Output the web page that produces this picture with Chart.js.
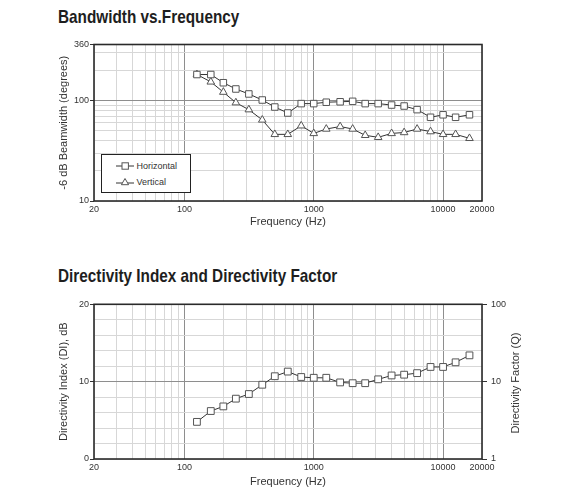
<!DOCTYPE html>
<html><head><meta charset="utf-8">
<script src="https://cdn.jsdelivr.net/npm/chart.js@4.4.1/dist/chart.umd.min.js"></script>
<style>
html,body{margin:0;padding:0;background:#fff;}
body{width:568px;height:500px;position:relative;overflow:hidden;font-family:"Liberation Sans",Arial,sans-serif;}
.title{position:absolute;left:58px;font-family:"Liberation Sans",Arial,sans-serif;font-weight:bold;font-size:18.5px;color:#1e1e1e;line-height:20px;white-space:nowrap;transform:scaleX(0.828);transform-origin:0 50%;}
#t1{top:7px;}
#t2{top:266px;}
.wrap{position:absolute;left:0;width:568px;}
#w1{top:30px;height:205px;}
#w2{top:290px;height:210px;}
#legend{position:absolute;left:101px;top:154px;width:90px;height:39px;box-sizing:border-box;border:1.5px solid #222;background:#fff;font-size:9px;color:#333;}
#legend .row{position:absolute;left:0;height:12px;line-height:12px;white-space:nowrap;}
#legend svg{position:absolute;left:12.5px;top:0;}
#legend span{position:absolute;left:34.5px;top:0;}
#qtitle{position:absolute;left:415px;top:375px;width:200px;line-height:16px;text-align:center;font-size:11px;color:#333;transform:rotate(-90deg);transform-origin:50% 50%;white-space:nowrap;}
</style></head>
<body>
<div class="title" id="t1">Bandwidth vs.Frequency</div>
<div class="wrap" id="w1"><canvas id="c1"></canvas></div>
<div id="legend">
  <div class="row" style="top:4.5px"><svg width="20" height="12"><line x1="1" y1="6" x2="19" y2="6" stroke="#333" stroke-width="1"/><rect x="7" y="2.8" width="6.4" height="6.4" fill="#fff" stroke="#555" stroke-width="1"/></svg><span>Horizontal</span></div>
  <div class="row" style="top:20.5px"><svg width="20" height="12"><line x1="1" y1="7" x2="19" y2="7" stroke="#333" stroke-width="1"/><polygon points="10,2.5 13.6,8.7 6.4,8.7" fill="#fff" stroke="#555" stroke-width="1"/></svg><span>Vertical</span></div>
</div>
<div class="title" id="t2">Directivity Index and Directivity Factor</div>
<div class="wrap" id="w2"><canvas id="c2"></canvas></div>
<div id="qtitle">Directivity Factor (Q)</div>
<script>
// ---- data ----
const freqs = [125,160,200,250,315,400,500,630,800,1000,1250,1600,2000,2500,3150,4000,5000,6300,8000,10000,12500,16000];
const horizontal = [181,181,150,130,116,101,86,75,93,93,96,97,98,93,93,90,88,81,68,72,68,72];
const vertical = [181,153,121,95,81,64,46,46,56,47,52,55,52,45,43,47,48,52,49,46,46,42];
const directivityIndex = [4.8,6.2,6.8,7.8,8.4,9.6,10.7,11.3,10.6,10.5,10.5,9.9,9.8,9.8,10.3,10.8,10.9,11.1,11.9,11.9,12.5,13.4];
const freqTickLabels = [20,100,1000,10000,20000];
const freqMajor = [100,1000,10000];
const beamTickLabels = [10,100,360];
const beamMajor = [100];
const diTickLabels = [0,10,20];
const diMajor = [10];
const qTickLabels = [1,10,100];

// gridline positions for log axes
function logGrid(min,max){
  const out=[];
  for(let e=-2;e<=6;e++){
    for(let m=1;m<10;m++){
      const v=+(m*Math.pow(10,e)).toPrecision(6);
      if(v>=min && v<=max) out.push(v);
    }
  }
  if(!out.includes(min)) out.unshift(min);
  if(!out.includes(max)) out.push(max);
  return out;
}

const MINOR='#d7d7d7', MAJOR='#8e8e8e', TXT='#333';
const tickFont={family:'"Liberation Sans",Arial,sans-serif',size:9};
const titleFont={family:'"Liberation Sans",Arial,sans-serif',size:11};

const frame={id:'frame',beforeDatasetsDraw(chart){
  const a=chart.chartArea,ctx=chart.ctx;
  ctx.save();ctx.strokeStyle='#2a2a2a';ctx.lineWidth=1.6;
  ctx.strokeRect(a.left,a.top,a.right-a.left,a.bottom-a.top);ctx.restore();
}};

function freqAxis(h){
  return {
    type:'logarithmic',min:20,max:20000,
    afterBuildTicks:s=>{s.ticks=logGrid(20,20000).map(v=>({value:v}));},
    afterFit:s=>{s.height=h;},
    ticks:{autoSkip:false,maxRotation:0,minRotation:0,padding:3,color:TXT,font:tickFont,
      callback:v=>freqTickLabels.includes(v)?String(v):''},
    grid:{color:c=>freqMajor.includes(c.tick&&c.tick.value)?MAJOR:MINOR,lineWidth:1,drawTicks:false},
    border:{display:false},
    title:{display:true,text:'Frequency (Hz)',color:TXT,font:titleFont,padding:0}
  };
}

const common={responsive:true,maintainAspectRatio:false,animation:false,
  plugins:{legend:{display:false},tooltip:{enabled:false}},events:[]};

function series(vals,style,r){
  return {data:freqs.map((f,i)=>({x:f,y:vals[i]})),borderColor:'#333',borderWidth:1,
    pointStyle:style,pointRadius:r,pointBackgroundColor:'#fff',pointBorderColor:'#555',pointBorderWidth:1,
    tension:0,fill:false};
}

new Chart(document.getElementById('c1'),{
  type:'line',
  data:{datasets:[series(horizontal,'rect',4.6),series(vertical,'triangle',4.4)]},
  options:Object.assign({},common,{
    layout:{padding:{left:57.4,right:86,top:14.5,bottom:6.4}},
    scales:{
      x:freqAxis(27.6),
      y:{type:'logarithmic',min:10,max:360,
        afterBuildTicks:s=>{s.ticks=logGrid(10,360).map(v=>({value:v}));},
        afterFit:s=>{s.width=36.6;},
        ticks:{autoSkip:false,padding:1,color:TXT,font:tickFont,
          callback:v=>beamTickLabels.includes(v)?String(v):''},
        grid:{color:c=>beamMajor.includes(c.tick&&c.tick.value)?MAJOR:MINOR,lineWidth:1,drawTicks:true,tickLength:4,
          tickColor:c=>beamTickLabels.includes(c.tick&&c.tick.value)?'#333':'rgba(0,0,0,0)'},
        border:{display:false},
        title:{display:true,text:'-6 dB Beamwidth (degrees)',color:TXT,font:titleFont,padding:0}
      }
    }
  }),
  plugins:[frame]
});

new Chart(document.getElementById('c2'),{
  type:'line',
  data:{datasets:[Object.assign(series(directivityIndex,'rect',4.8),{yAxisID:'y'})]},
  options:Object.assign({},common,{
    layout:{padding:{left:57.4,right:46,top:14.3,bottom:11.4}},
    scales:{
      x:freqAxis(29.6),
      y:{type:'linear',min:0,max:20,position:'left',
        afterFit:s=>{s.width=36.6;},
        ticks:{stepSize:2,autoSkip:false,padding:1,color:TXT,font:tickFont,
          callback:v=>diTickLabels.includes(v)?String(v):''},
        grid:{color:c=>diMajor.includes(c.tick&&c.tick.value)?MAJOR:MINOR,lineWidth:1,drawTicks:true,tickLength:4,
          tickColor:c=>diTickLabels.includes(c.tick&&c.tick.value)?'#333':'rgba(0,0,0,0)'},
        border:{display:false},
        title:{display:true,text:'Directivity Index (DI), dB',color:TXT,font:titleFont,padding:0}
      },
      q:{type:'logarithmic',min:1,max:100,position:'right',
        afterBuildTicks:s=>{s.ticks=qTickLabels.map(v=>({value:v}));},
        afterFit:s=>{s.width=40;},
        ticks:{autoSkip:false,padding:4,color:TXT,font:tickFont,callback:v=>String(v)},
        grid:{drawOnChartArea:false,drawTicks:true,tickLength:5,tickColor:'#333'},
        border:{display:false}
      }
    }
  }),
  plugins:[frame]
});
</script>
</body></html>
